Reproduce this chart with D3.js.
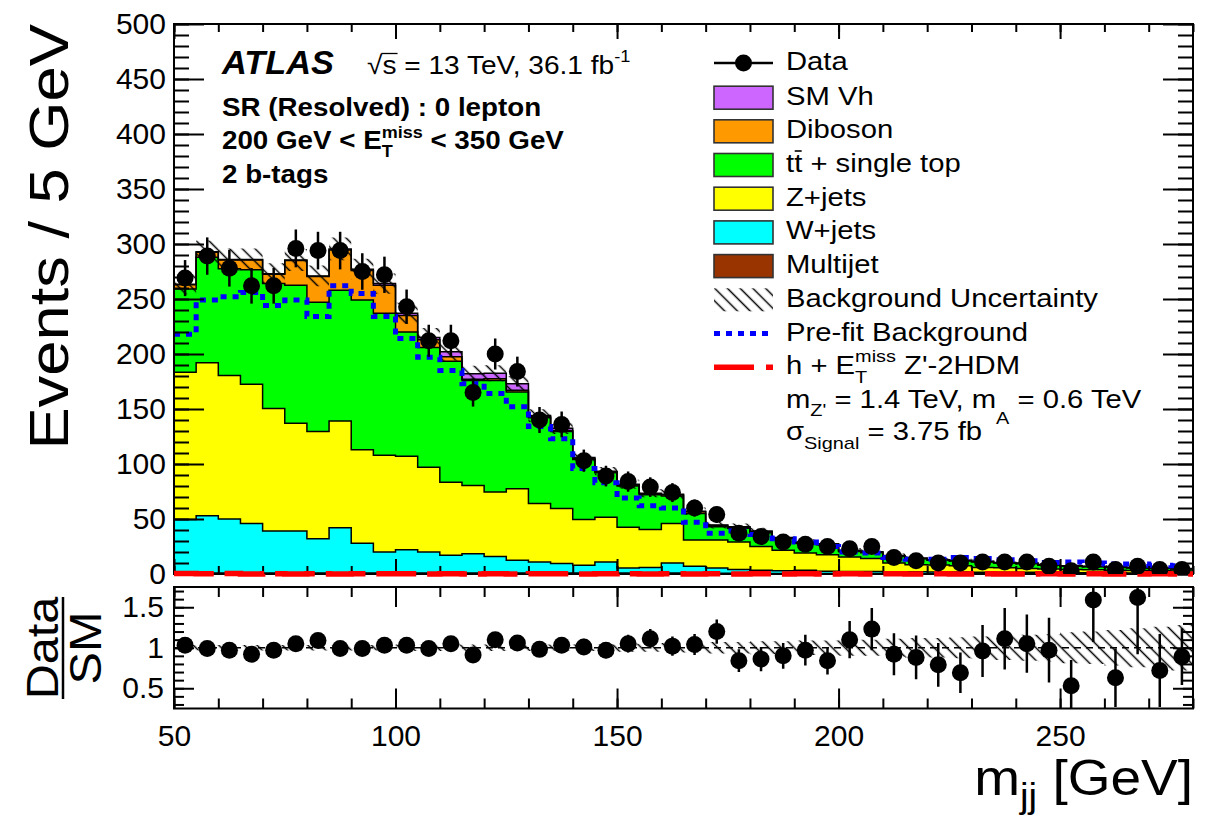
<!DOCTYPE html>
<html><head><meta charset="utf-8">
<script src="https://cdn.jsdelivr.net/npm/d3@7"></script>
<style>body{margin:0;background:#fff} svg{display:block} text{white-space:pre}</style>
</head><body>
<svg id="c" width="1220" height="820"></svg>
<script>
// ---------------- data ----------------
const binWidth = 5;
const binCenters = [52.5,57.5,62.5,67.5,72.5,77.5,82.5,87.5,92.5,97.5,
  102.5,107.5,112.5,117.5,122.5,127.5,132.5,137.5,142.5,147.5,
  152.5,157.5,162.5,167.5,172.5,177.5,182.5,187.5,192.5,197.5,
  202.5,207.5,212.5,217.5,222.5,227.5,232.5,237.5,242.5,247.5,
  252.5,257.5,262.5,267.5,272.5,277.5];
const multijet = [1,1,1,1,1,1,1,1,1,1, 1,1,1,1,1,1,0.8,0.8,0.8,0.8,
  0.8,0.8,0.8,0.6,0.6,0.6,0.5,0.5,0.5,0.5, 0.4,0.4,0.4,0.3,0.3,0.3,0.3,0.3,0.3,0.2,
  0.2,0.2,0.2,0.2,0.2,0.2];
const wjets = [48.5,52,49,45,38,38,31,41,27,19, 21,19,16,17.5,15,11.5,10.2,8.7,7.2,10.2,
  4.7,5.2,9.2,6.4,4.9,3.4,3,2.5,3,2, 1.8,1.8,1.6,1.7,1.5,1.5,1.4,1.2,1.2,1.1,
  1,1,0.9,0.8,0.8,0.7];
const zjets = [134,139,130.5,126.5,111.5,98,97.5,97,85,88, 85,77,66.5,62,58.5,65,53,50,41.5,40.5,
  37,34.5,36,24,25.5,25,21.5,18.5,15.5,15, 13.3,11.8,8,6.5,6.4,5.7,4.3,4.1,3.5,3.2,
  3,2.6,2.4,2.2,2,1.8];
const ttbar = [75.5,96,97,104,113.5,125.5,117.5,119,136,129, 113,109,110,95.5,101.5,88,78,70,54.5,40.5,
  37.5,31.5,25,24,12,12.5,12.5,10.5,9,9, 5,5.3,6,5.3,4.2,4.4,4.9,4.3,4.4,3.5,
  2.8,2.7,2.5,2.3,2,1.9];
const diboson = [4,4.5,8,9,8.5,22.5,23.5,36.5,27,25.5, 15,7,4,1,1.5,1.5,1,1,1,1,
  1,1,1,1.5,1,1,1,0.8,0.7,0.7, 0.7,0.6,0.5,0.4,0.4,0.4,0.4,0.4,0.4,0.3,
  0.3,0.3,0.3,0.3,0.3,0.25];
const smvh = [0.5,0.5,0.5,0.5,0.5,0.5,0.5,1,1,1.5, 2,2,4.5,5,5,6,1,2,1,0.5,
  0.5,0.5,0.5,0.5,0.5,0.5,0.5,0.4,0.3,0.3, 0.3,0.3,0.3,0.3,0.2,0.2,0.2,0.2,0.2,0.2,
  0.2,0.2,0.2,0.2,0.2,0.15];
const dataVals = [269,289,278,262,262,296,294,294,275,272, 243,212,212,165,200,184,140,136,103,89,
  84,79,74,60,54,37,34,29,27,25, 23,25,15,12,10,10,11,11,11,7,
  3,11,4,7,4,4];
const dataErr = [16.4,17,16.7,16.2,16.2,17.2,17.1,17.1,16.6,16.5, 15.6,14.6,14.6,12.8,14.1,13.6,11.8,11.7,10.1,9.4,
  9.2,8.9,8.6,7.7,7.3,6.1,5.8,5.4,5.2,5, 4.8,5,3.9,3.5,3.2,3.2,3.3,3.3,3.3,2.6,
  1.7,3.3,2,2.6,2,2];
const prefit = [218,249,252,256,244,249,234,262,255,234, 214,197,185,173,164,152,134,123,96,83,
  69,62,60,47,37,39,36,32,29,25, 20,19,15,13.5,13.5,15,14,13,12,10.5,
  11,10,9,9,8,7.5];
const signal = [0.4,0.2,0.4,0.1,0.2,0.1,0.3,0.1,0.2,0.3, 0.2,0.1,0.2,0.1,0.3,0.1,0.2,0.3,0.1,0.2,
  0.3,0.1,0.2,0.1,0.2,0.1,0.2,0.1,0.2,0.1, 0.2,0.1,0.2,0.1,0.2,0.1,0.2,0.1,0.1,0.2,
  0.1,0.2,0.1,0.1,0.2,0.1];
const bkgRelUnc = [0.035,0.035,0.035,0.035,0.035,0.035,0.035,0.035,0.035,0.035,
  0.04,0.04,0.04,0.04,0.04,0.04,0.04,0.04,0.04,0.04,
  0.05,0.05,0.06,0.06,0.07,0.07,0.08,0.08,0.09,0.09,
  0.10,0.10,0.11,0.12,0.12,0.13,0.14,0.15,0.16,0.17,
  0.19,0.20,0.22,0.24,0.26,0.28];
const ratioVals = [1.03,0.99,0.97,0.92,0.97,1.05,1.09,0.99,0.99,1.03, 1.03,0.99,1.05,0.91,1.10,1.06,0.98,1.03,1.01,0.97,
  1.05,1.11,1.02,1.04,1.20,0.84,0.86,0.90,0.97,0.84, 1.10,1.23,0.92,0.88,0.79,0.69,0.96,1.11,1.05,0.97,
  0.53,1.59,0.63,1.62,0.72,0.89];
const ratioErr = [0.06,0.06,0.06,0.06,0.06,0.06,0.06,0.06,0.06,0.06, 0.07,0.07,0.07,0.07,0.07,0.07,0.085,0.085,0.1,0.1,
  0.11,0.12,0.12,0.13,0.15,0.14,0.15,0.16,0.19,0.17, 0.23,0.26,0.26,0.27,0.27,0.25,0.32,0.38,0.36,0.4,
  0.32,0.52,0.36,0.7,0.45,0.35];
const yTicksMain = [0,50,100,150,200,250,300,350,400,450,500];
const xTicks = [50,100,150,200,250];
const ratioTicks = [0.5,1,1.5];
const stackKeys = ['multijet','wjets','zjets','ttbar','diboson','smvh'];
const stackColors = {multijet:'#993300', wjets:'#00ffff', zjets:'#ffff00', ttbar:'#00ff00', diboson:'#ff9900', smvh:'#cc66ff'};

// ---------------- setup ----------------
const FONT = "'Liberation Sans', Arial, Helvetica, sans-serif";
const svg = d3.select('#c');
const X0 = 174, X1 = 1193, MT = 24, MB = 574, RT = 587, RB = 708.5;
const x = d3.scaleLinear().domain([50, 280]).range([X0, X1]);
const y = d3.scaleLinear().domain([0, 500]).range([MB, MT]);
const yr = d3.scaleLinear().domain([0.25, 1.75]).range([RB, RT]);
const n = binCenters.length;

const defs = svg.append('defs');
const pat = defs.append('pattern').attr('id', 'hatch').attr('patternUnits', 'userSpaceOnUse')
  .attr('width', 9).attr('height', 9).attr('patternTransform', 'rotate(-45)');
pat.append('line').attr('x1', 4.5).attr('y1', -1).attr('x2', 4.5).attr('y2', 10)
  .attr('stroke', '#000').attr('stroke-width', 1.5);
defs.append('clipPath').attr('id', 'clipMain').append('rect')
  .attr('x', X0).attr('y', MT).attr('width', X1 - X0).attr('height', MB - MT);
defs.append('clipPath').attr('id', 'clipRatio').append('rect')
  .attr('x', X0).attr('y', RT).attr('width', X1 - X0).attr('height', RB - RT);

function stepPoints(lowArr, highArr) {
  const pts = [];
  for (let i = 0; i <= n; i++) {
    const k = Math.min(i, n - 1);
    const xe = i < n ? binCenters[i] - binWidth / 2 : binCenters[n - 1] + binWidth / 2;
    pts.push({x: xe, lo: lowArr[k], hi: highArr[k]});
  }
  return pts;
}

// ---------------- main panel ----------------
const rows = binCenters.map((c, i) => ({c, multijet: multijet[i], wjets: wjets[i], zjets: zjets[i],
  ttbar: ttbar[i], diboson: diboson[i], smvh: smvh[i]}));
const layers = d3.stack().keys(stackKeys)(rows);
const gMain = svg.append('g').attr('clip-path', 'url(#clipMain)');
const areaGen = d3.area().curve(d3.curveStepAfter).x(d => x(d.x)).y0(d => y(d.lo)).y1(d => y(d.hi));
const lineGen = d3.line().curve(d3.curveStepAfter).x(d => x(d.x)).y(d => y(d.hi));
layers.forEach(L => {
  const pts = stepPoints(L.map(d => d[0]), L.map(d => d[1]));
  gMain.append('path').attr('d', areaGen(pts)).attr('fill', stackColors[L.key]).attr('stroke', 'none');
});
layers.forEach(L => {
  const pts = stepPoints(L.map(d => d[0]), L.map(d => d[1]));
  gMain.append('path').attr('d', lineGen(pts)).attr('fill', 'none').attr('stroke', '#000').attr('stroke-width', 1.5);
});
const total = layers[layers.length - 1].map(d => d[1]);
gMain.append('path')
  .attr('d', areaGen(stepPoints(total.map((t, i) => t * (1 - bkgRelUnc[i])), total.map((t, i) => t * (1 + bkgRelUnc[i])))))
  .attr('fill', 'url(#hatch)').attr('stroke', 'none');
gMain.append('path').attr('d', lineGen(stepPoints(prefit, prefit)))
  .attr('fill', 'none').attr('stroke', '#0000ff').attr('stroke-width', 5).attr('stroke-dasharray', '6,6');

// ---------------- ratio panel ----------------
const gRatio = svg.append('g').attr('clip-path', 'url(#clipRatio)');
const areaR = d3.area().curve(d3.curveStepAfter).x(d => x(d.x)).y0(d => yr(d.lo)).y1(d => yr(d.hi));
gRatio.append('path')
  .attr('d', areaR(stepPoints(bkgRelUnc.map(u => 1 - u), bkgRelUnc.map(u => 1 + u))))
  .attr('fill', 'url(#hatch)');
gRatio.append('line').attr('x1', X0).attr('x2', X1).attr('y1', yr(1)).attr('y2', yr(1))
  .attr('stroke', '#000').attr('stroke-width', 1.5).attr('stroke-dasharray', '7,5');

// ---------------- axes ----------------
function styleAxis(g, fs) {
  g.select('.domain').remove();
  g.selectAll('.tick line').attr('stroke', '#000').attr('stroke-width', 2);
  g.attr('font-family', FONT).attr('font-size', fs || 30);
  g.selectAll('.tick text').attr('fill', '#000');
}
const minorMainY = d3.range(0, 501, 10);
const minorX = d3.range(50, 281, 10);
const minorR = d3.range(0.3, 1.71, 0.1);
svg.append('g').attr('transform', `translate(${X0},0)`)
  .call(d3.axisLeft(y).tickValues(yTicksMain).tickSizeInner(-30).tickSizeOuter(0).tickPadding(8).tickFormat(d3.format('d')))
  .call(styleAxis);
svg.append('g').attr('transform', `translate(${X0},0)`)
  .call(d3.axisLeft(y).tickValues(minorMainY).tickSizeInner(-15).tickSizeOuter(0).tickFormat(''))
  .call(styleAxis);
svg.append('g').attr('transform', `translate(${X1},0)`)
  .call(d3.axisRight(y).tickValues(yTicksMain).tickSizeInner(-30).tickSizeOuter(0).tickFormat(''))
  .call(styleAxis);
svg.append('g').attr('transform', `translate(${X1},0)`)
  .call(d3.axisRight(y).tickValues(minorMainY).tickSizeInner(-15).tickSizeOuter(0).tickFormat(''))
  .call(styleAxis);
[[MT, d3.axisTop], [MB, d3.axisBottom]].forEach(([yy, ax]) => {
  svg.append('g').attr('transform', `translate(0,${yy})`)
    .call(ax(x).tickValues(xTicks).tickSizeInner(-15).tickSizeOuter(0).tickFormat('')).call(styleAxis);
  svg.append('g').attr('transform', `translate(0,${yy})`)
    .call(ax(x).tickValues(minorX).tickSizeInner(-8).tickSizeOuter(0).tickFormat('')).call(styleAxis);
});
svg.append('g').attr('transform', `translate(${X0},0)`)
  .call(d3.axisLeft(yr).tickValues(ratioTicks).tickSizeInner(-20).tickSizeOuter(0).tickPadding(10).tickFormat(d => String(d)))
  .call(styleAxis);
svg.append('g').attr('transform', `translate(${X0},0)`)
  .call(d3.axisLeft(yr).tickValues(minorR).tickSizeInner(-10).tickSizeOuter(0).tickFormat(''))
  .call(styleAxis);
svg.append('g').attr('transform', `translate(${X1},0)`)
  .call(d3.axisRight(yr).tickValues(ratioTicks).tickSizeInner(-20).tickSizeOuter(0).tickFormat(''))
  .call(styleAxis);
svg.append('g').attr('transform', `translate(${X1},0)`)
  .call(d3.axisRight(yr).tickValues(minorR).tickSizeInner(-10).tickSizeOuter(0).tickFormat(''))
  .call(styleAxis);
svg.append('g').attr('transform', `translate(0,${RB})`)
  .call(d3.axisBottom(x).tickValues(xTicks).tickSizeInner(-20).tickSizeOuter(0).tickPadding(16).tickFormat(d3.format('d')))
  .call(styleAxis);
svg.append('g').attr('transform', `translate(0,${RB})`)
  .call(d3.axisBottom(x).tickValues(minorX).tickSizeInner(-10).tickSizeOuter(0).tickFormat(''))
  .call(styleAxis);
svg.append('g').attr('transform', `translate(0,${RT})`)
  .call(d3.axisTop(x).tickValues(xTicks).tickSizeInner(-20).tickSizeOuter(0).tickFormat(''))
  .call(styleAxis);
svg.append('g').attr('transform', `translate(0,${RT})`)
  .call(d3.axisTop(x).tickValues(minorX).tickSizeInner(-10).tickSizeOuter(0).tickFormat(''))
  .call(styleAxis);
[[MT, MB], [RT, RB]].forEach(([t, b]) => {
  svg.append('rect').attr('x', X0).attr('y', t).attr('width', X1 - X0).attr('height', b - t)
    .attr('fill', 'none').attr('stroke', '#000').attr('stroke-width', 2);
});

// signal (drawn over the frame, as in the reference)
svg.append('path').attr('d', lineGen(stepPoints(signal, signal)))
  .attr('fill', 'none').attr('stroke', '#ff0000').attr('stroke-width', 5.5).attr('stroke-dasharray', '40,11');

// data points (main)
const gData = svg.append('g').attr('clip-path', 'url(#clipMain)');
binCenters.forEach((c, i) => {
  gData.append('line').attr('x1', x(c)).attr('x2', x(c))
    .attr('y1', y(dataVals[i] - dataErr[i])).attr('y2', y(dataVals[i] + dataErr[i]))
    .attr('stroke', '#000').attr('stroke-width', 2.5);
});
gData.selectAll('circle').data(binCenters).join('circle')
  .attr('cx', d => x(d)).attr('cy', (d, i) => y(dataVals[i])).attr('r', 8.5).attr('fill', '#000');

// data / SM points (ratio)
const gRatioPts = svg.append('g').attr('clip-path', 'url(#clipRatio)');
binCenters.forEach((c, i) => {
  gRatioPts.append('line').attr('x1', x(c)).attr('x2', x(c))
    .attr('y1', yr(ratioVals[i] - ratioErr[i])).attr('y2', yr(ratioVals[i] + ratioErr[i]))
    .attr('stroke', '#000').attr('stroke-width', 2.5);
});
gRatioPts.selectAll('circle').data(binCenters).join('circle')
  .attr('cx', d => x(d)).attr('cy', (d, i) => yr(ratioVals[i])).attr('r', 8.5).attr('fill', '#000');

// ---------------- text helper ----------------
function rich(parent, px, py, parts, opt) {
  const g = parent.append('g').attr('transform',
    `translate(${px},${py})` + (opt.rotate ? ` rotate(${opt.rotate})` : '') + ` scale(${opt.sx || 1},1)`);
  let prevStart = 0, maxEnd = 0;
  const nodes = [];
  parts.forEach(p => {
    if (typeof p === 'string') p = {t: p};
    const fs = opt.size * (p.s || 1);
    const start = p.same ? prevStart : maxEnd;
    const t = g.append('text').attr('x', start).attr('y', p.dy || 0)
      .attr('font-size', fs).attr('font-family', FONT)
      .attr('font-weight', p.weight || opt.weight || 'normal')
      .attr('font-style', p.style || opt.style || 'normal')
      .attr('fill', '#000').text(p.t);
    const w = t.node().getComputedTextLength();
    nodes.push({t, start, w, p, fs});
    prevStart = start;
    maxEnd = Math.max(maxEnd, start + w);
  });
  if (opt.anchor === 'end' || opt.anchor === 'middle') {
    const shift = opt.anchor === 'end' ? -maxEnd : -maxEnd / 2;
    nodes.forEach(nd => { nd.start += shift; nd.t.attr('x', nd.start); });
  }
  return {g, nodes, width: maxEnd};
}

// axis titles
rich(svg, 68, 24, ['Events / 5 GeV'], {size: 56, sx: 1.13, anchor: 'end', rotate: -90});
rich(svg, 1193, 795, ['m', {t: 'jj', s: 0.7, dy: 13}, ' [GeV]'], {size: 50, sx: 1.1, anchor: 'end'});
rich(svg, 58, 648, ['Data'], {size: 45, sx: 1.08, anchor: 'middle', rotate: -90});
rich(svg, 101, 648, ['SM'], {size: 45, sx: 1.08, anchor: 'middle', rotate: -90});
svg.append('line').attr('x1', 63).attr('x2', 63).attr('y1', 597).attr('y2', 699).attr('stroke', '#000').attr('stroke-width', 2.5);

// ATLAS label
rich(svg, 222, 74, [{t: 'ATLAS', weight: 'bold', style: 'italic'}], {size: 33, sx: 1.04});
const sq = rich(svg, 367, 74, ['√', 's', ' = 13 TeV, 36.1 fb', {t: '-1', s: 0.65, dy: -12}], {size: 26, sx: 1.08});
{
  const s = sq.nodes[1];
  sq.g.append('line').attr('x1', s.start - 1).attr('x2', s.start + s.w + 1).attr('y1', -20.5).attr('y2', -20.5)
    .attr('stroke', '#000').attr('stroke-width', 1.3);
}
rich(svg, 222, 116, ['SR (Resolved) : 0 lepton'], {size: 25, sx: 1.11, weight: 'bold'});
rich(svg, 222, 149, ['200 GeV < E', {t: 'miss', s: 0.65, dy: -11}, {t: 'T', s: 0.65, dy: 8, same: true}, ' < 350 GeV'],
  {size: 25, sx: 1.11, weight: 'bold'});
rich(svg, 222, 183, ['2 b-tags'], {size: 25, sx: 1.11, weight: 'bold'});

// ---------------- legend ----------------
const LX0 = 714, LX1 = 773, LT = 786, LS = 25, LSX = 1.17;
const legendRows = [63, 97.7, 131.3, 165, 198.7, 232.4, 266.1, 299.8, 333.5, 367.2];
svg.append('line').attr('x1', LX0).attr('x2', LX1).attr('y1', legendRows[0]).attr('y2', legendRows[0])
  .attr('stroke', '#000').attr('stroke-width', 2.5);
svg.append('circle').attr('cx', (LX0 + LX1) / 2).attr('cy', legendRows[0]).attr('r', 8.5).attr('fill', '#000');
rich(svg, LT, legendRows[0] + 7, ['Data'], {size: LS, sx: LSX});
const boxEntries = [['smvh', ['SM Vh']], ['diboson', ['Diboson']], ['ttbar', null], ['zjets', ['Z+jets']],
  ['wjets', ['W+jets']], ['multijet', ['Multijet']]];
boxEntries.forEach(([k, label], j) => {
  const cy = legendRows[j + 1];
  svg.append('rect').attr('x', LX0).attr('y', cy - 11.5).attr('width', LX1 - LX0).attr('height', 23)
    .attr('fill', stackColors[k]).attr('stroke', '#333').attr('stroke-width', 1.6);
  if (label) rich(svg, LT, cy + 7, label, {size: LS, sx: LSX});
  else {
    const r = rich(svg, LT, cy + 7, ['t', 't', ' + single top'], {size: LS, sx: LSX});
    const t2 = r.nodes[1];
    r.g.append('line').attr('x1', t2.start + 0.5).attr('x2', t2.start + t2.w - 0.5)
      .attr('y1', -21).attr('y2', -21).attr('stroke', '#000').attr('stroke-width', 1.6);
  }
});
svg.append('rect').attr('x', LX0).attr('y', legendRows[7] - 11.5).attr('width', LX1 - LX0).attr('height', 23)
  .attr('fill', 'url(#hatch)');
rich(svg, LT, legendRows[7] + 7, ['Background Uncertainty'], {size: LS, sx: LSX});
svg.append('line').attr('x1', LX0).attr('x2', LX1).attr('y1', legendRows[8]).attr('y2', legendRows[8])
  .attr('stroke', '#0000ff').attr('stroke-width', 5).attr('stroke-dasharray', '6,6');
rich(svg, LT, legendRows[8] + 7, ['Pre-fit Background'], {size: LS, sx: LSX});
svg.append('line').attr('x1', LX0).attr('x2', LX1).attr('y1', legendRows[9]).attr('y2', legendRows[9])
  .attr('stroke', '#ff0000').attr('stroke-width', 5.5).attr('stroke-dasharray', '40,12');
rich(svg, LT, legendRows[9] + 7, ['h + E', {t: 'miss', s: 0.68, dy: -12}, {t: 'T', s: 0.68, dy: 9, same: true}, ' Z\'-2HDM'],
  {size: LS, sx: LSX});
rich(svg, LT, 408, ['m', {t: 'Z\'', s: 0.68, dy: 8}, ' = 1.4 TeV, m', {t: 'A', s: 0.68, dy: 16}, ' = 0.6 TeV'],
  {size: LS, sx: LSX});
rich(svg, LT, 440, ['σ', {t: 'Signal', s: 0.68, dy: 9}, ' = 3.75 fb'], {size: LS, sx: LSX});
</script>
</body></html>
